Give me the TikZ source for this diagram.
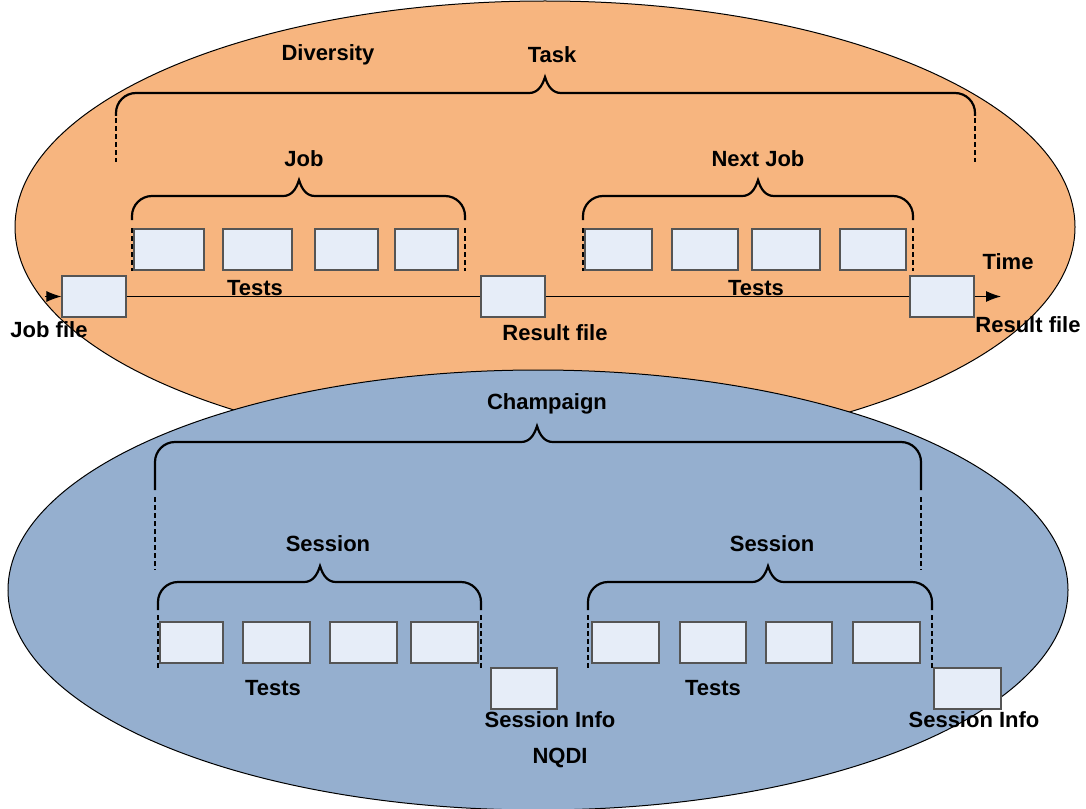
\documentclass[tikz,border=0pt]{standalone}
\usepackage{fontspec}
\setmainfont{Liberation Sans}
\usepackage{xcolor}
\definecolor{taskorange}{HTML}{F7B57F}
\definecolor{campblue}{HTML}{95AFCF}
\definecolor{boxfill}{HTML}{E6EDF8}
\definecolor{boxline}{HTML}{555555}
\usepackage{tikz}
\usetikzlibrary{arrows.meta}

\begin{document}
\begin{tikzpicture}[x=0.5pt, y=-0.5pt,
    filebox/.style={draw=boxline, line width=0.6pt, fill=boxfill, inner sep=0pt, minimum height=20.5pt},
    lbl/.style={font=\bfseries\fontsize{11}{13}\selectfont, inner sep=0pt},
    brace/.style={line width=1.1pt},
    bracedash/.style={line width=1.2pt, dash pattern=on 2.5pt off 1.5pt}]
  \useasboundingbox (0,0) rectangle (1086,808);
  \fill[taskorange] (545,227) ellipse [x radius=530, y radius=226];
  \draw[line width=0.5pt] (545,227) ellipse [x radius=530, y radius=226];
  \fill[campblue] (538,590) ellipse [x radius=530, y radius=220];
  \draw[line width=0.5pt] (538,590) ellipse [x radius=530, y radius=220];

  \foreach \xl/\xr/\xm/\yh/\ys/\ya/\yb in {116/975/545/93/116/118/162, 132/465/299/196/220/228/271,
      583/913/758/196/220/228/271, 155/921/537/442/490/497/570, 158/481/320/582/610/615/668,
      588/932/768/582/610/615/668} {
    \draw[brace] (\xl,\ys) -- (\xl,\yh+20) .. controls (\xl,\yh+9) and (\xl+9,\yh) .. (\xl+20,\yh)
      -- (\xm-16,\yh) .. controls (\xm-8,\yh) and (\xm-3,\yh-6) .. (\xm,\yh-16)
      .. controls (\xm+3,\yh-6) and (\xm+8,\yh) .. (\xm+16,\yh)
      -- (\xr-20,\yh) .. controls (\xr-9,\yh) and (\xr,\yh+9) .. (\xr,\yh+20) -- (\xr,\ys);
    \draw[bracedash] (\xl,\ya) -- (\xl,\yb);
    \draw[bracedash] (\xr,\ya) -- (\xr,\yb);
  }

  \foreach \n/\x/\y/\w in {j1/169/249.5/70, j2/257.5/249.5/69, j3/346.5/249.5/63, j4/426.5/249.5/63,
      n1/618.5/249.5/67, n2/705/249.5/66, n3/786/249.5/68, n4/873/249.5/66,
      s1/191.5/642.5/63, s2/276.5/642.5/67, s3/363.5/642.5/67, s4/444.5/642.5/67,
      t1/625.5/642.5/67, t2/713/642.5/66, t3/799/642.5/66, t4/886.5/642.5/67,
      infoL/524/688.5/66, infoR/967.5/688.5/67} {
    \node[filebox, minimum width=\w*0.5pt] (\n) at (\x,\y) {};
  }
  \node[filebox, minimum width=32pt] (jobfile) at (94,296.5) {};
  \node[filebox, minimum width=32pt] (result) at (513,296.5) {};
  \node[filebox, minimum width=32pt] (resultend) at (942,296.5) {};
  \coordinate (tstart) at (45,296.5);
  \coordinate (tend) at (1001,296.5);
  \draw[line width=0.5pt, -{Latex[length=7.5pt, width=5.5pt]}] (tstart) -- (jobfile);
  \draw[line width=0.5pt] (jobfile) -- (result);
  \draw[line width=0.5pt] (result) -- (resultend);
  \draw[line width=0.5pt, -{Latex[length=7.5pt, width=5.5pt]}] (resultend) -- (tend);

  \node[lbl] (diversity) at (328,55) {Diversity};
  \node[lbl] (task) at (552,55) {Task};
  \node[lbl] (job) at (304,159) {Job};
  \node[lbl] (nextjob) at (758,159) {Next Job};
  \node[lbl] (testsA) at (255,288) {Tests};
  \node[lbl] (testsB) at (756,288) {Tests};
  \node[lbl] (time) at (1008,262) {Time};
  \node[lbl] (jobfilelbl) at (49,330) {Job file};
  \node[lbl] (resultlbl) at (555,333) {Result file};
  \node[lbl] (resultendlbl) at (1028,325) {Result file};
  \node[lbl] (champaign) at (547,404) {Champaign};
  \node[lbl] (sessionL) at (328,544) {Session};
  \node[lbl] (sessionR) at (772,544) {Session};
  \node[lbl] (testsC) at (273,688) {Tests};
  \node[lbl] (testsD) at (713,688) {Tests};
  \node[lbl] (infoLlbl) at (550,720) {Session Info};
  \node[lbl] (infoRlbl) at (974,720) {Session Info};
  \node[lbl] (nqdi) at (560,758) {NQDI};
\end{tikzpicture}
\end{document}
